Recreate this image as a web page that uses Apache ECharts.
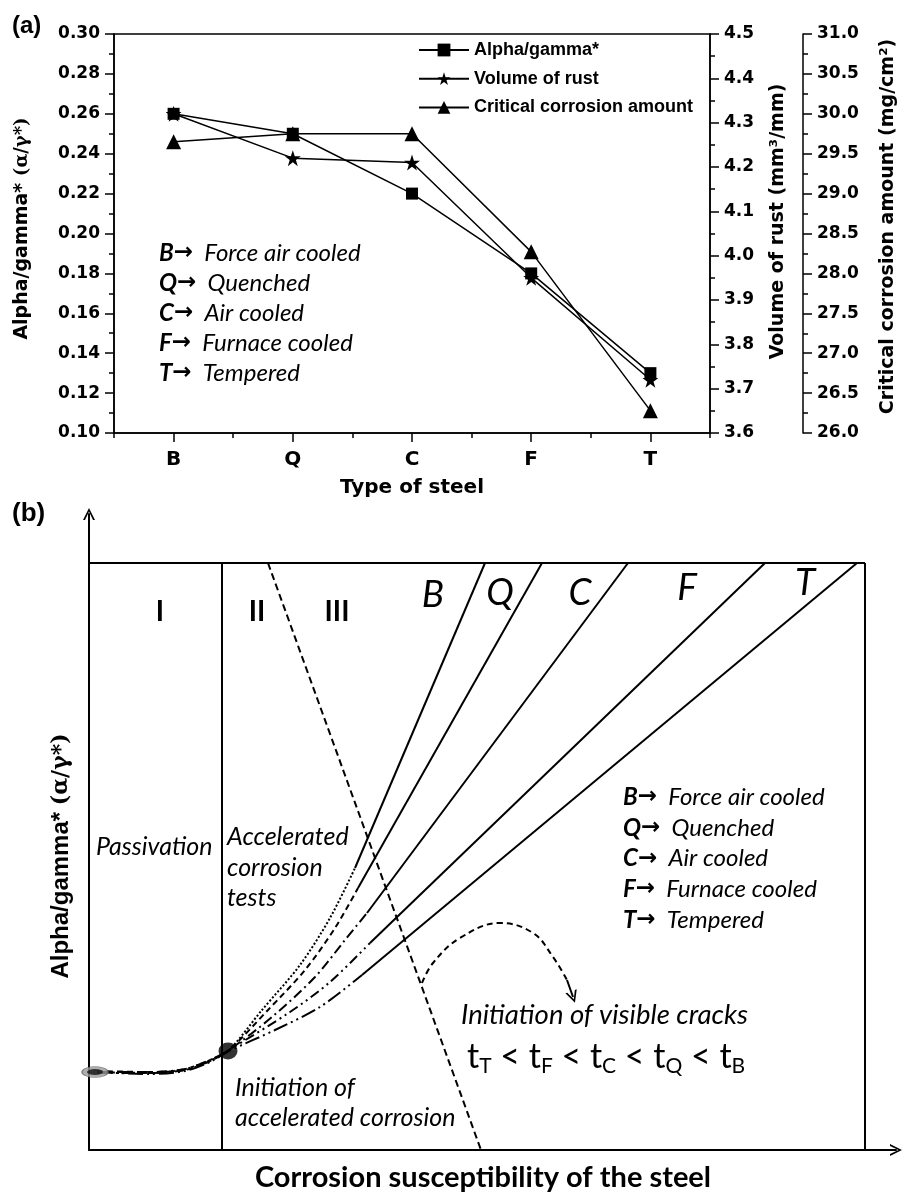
<!DOCTYPE html>
<html><head><meta charset="utf-8">
<script src="https://cdn.jsdelivr.net/npm/echarts/dist/echarts.min.js"></script>
<style>html,body{margin:0;padding:0;background:#fff}#c{width:909px;height:1195px}</style>
</head><body><div id="c"></div>
<script>
// ---------- Panel (a) data ----------
const steelTypes = ['B', 'Q', 'C', 'F', 'T'];
const steelKey = ['Force air cooled', 'Quenched', 'Air cooled', 'Furnace cooled', 'Tempered'];
const alphaGamma = [0.26, 0.25, 0.22, 0.18, 0.13];
const rustVolume = [4.32, 4.22, 4.21, 3.95, 3.72];
const criticalCorrosion = [29.65, 29.75, 29.75, 28.27, 26.28];
const seriesNames = ['Alpha/gamma*', 'Volume of rust', 'Critical corrosion amount'];
const leftTicks = {min: 0.10, max: 0.30, step: 0.02};
const rustTicks = {min: 3.6, max: 4.5, step: 0.1};
const critTicks = {min: 26.0, max: 31.0, step: 0.5};

// ---------- Panel (b) schematic (x: right of the y axis, y: above the x axis) ----------
const frameTop = [[0, 587], [776, 587]];
const frameRight = [[776, 587], [776, 0]];
const regionDivider = [[133, 0], [133, 587]];
const crackBoundary = [[179, 587], [392, 0]];
const passiveStart = [[6, 78]];
const acceleratedStart = [[139, 99]];
const curveB = [[8, 78], [61, 77], [96, 81], [121, 90], [140, 100], [173, 140], [211, 185], [241, 232], [266, 282]];
const curveQ = [[8, 79], [61, 78], [96, 80], [121, 89], [140, 100], [179, 140], [216, 180], [246, 222], [269, 262]];
const curveC = [[8, 78], [61, 78], [96, 81], [121, 90], [140, 100], [183, 133], [226, 173], [256, 210], [278, 237]];
const curveF = [[8, 77], [61, 77], [96, 80], [121, 89], [140, 100], [201, 138], [241, 168], [281, 207]];
const curveT = [[8, 78], [61, 76], [96, 79], [121, 88], [140, 99], [186, 120], [231, 143], [273, 175]];
const lineB = [[266, 282], [396, 587]];
const lineQ = [[269, 262], [453, 587]];
const lineC = [[278, 237], [539, 587]];
const lineF = [[281, 207], [676, 587]];
const lineT = [[273, 175], [768, 587]];
const crackArc = [[333, 167], [344, 187], [371, 212], [411, 227], [444, 217], [464, 193], [478, 170]];
const crackArrow = [[478, 170], [484, 153]];

const BLK = '#000';
const chevron = 'path://M0,12 L6,0 L12,12 L10,12 L6,3.5 L2,12 Z';
const star = 'path://M50 0 L61.8 35.1 L98.8 35.1 L68.9 57 L80.2 92.3 L50 70.5 L19.8 92.3 L31.1 57 L1.2 35.1 L38.2 35.1 Z';

function yAxisA(t, dec, pos, offset, name, nameGap, shiftUp) {
  return {
    type: 'value', gridIndex: 0, position: pos, offset: offset,
    min: t.min, max: t.max, interval: t.step,
    name: name, nameLocation: 'middle', nameGap: nameGap,
    nameTextStyle: {fontFamily: 'DejaVu Sans', fontWeight: 'bold', fontSize: 19, color: BLK,
      padding: [0, 0, 0, shiftUp * 2],
      rich: {b: {fontFamily: 'DejaVu Sans', fontWeight: 'bold', fontSize: 19, color: BLK},
             r: {fontFamily: 'DejaVu Serif', fontSize: 18, color: BLK}}},
    axisLine: {show: true, onZero: false, lineStyle: {color: BLK, width: 1.5}},
    axisTick: {show: true, inside: false, length: 9, lineStyle: {color: BLK, width: 1.5}},
    minorTick: {show: true, splitNumber: 2, length: 5, lineStyle: {color: BLK, width: 1.5}},
    splitLine: {show: false}, minorSplitLine: {show: false},
    axisLabel: {show: true, margin: 14, fontFamily: 'DejaVu Sans', fontWeight: 'bold', fontSize: 17, color: BLK,
      formatter: v => Number(v).toFixed(dec)}
  };
}

function lineB_(data, dash, smooth) {
  return {type: 'line', xAxisIndex: 2, yAxisIndex: 3, data: data, symbol: 'none', showSymbol: false,
    smooth: smooth || false, silent: true,
    lineStyle: {color: BLK, width: 2, type: dash || 'solid'}};
}

const keyText = steelTypes.map((s, i) => `{k|${s}}{a|→}{d|  ${steelKey[i]}}`).join('\n');
const keyRich = lh => ({
  k: {fontFamily: 'Lato', fontStyle: 'italic', fontWeight: 'bold', fontSize: 24, lineHeight: lh, fill: BLK, color: BLK},
  a: {fontFamily: 'DejaVu Sans', fontWeight: 'bold', fontSize: 23, lineHeight: lh, fill: BLK, color: BLK},
  d: {fontFamily: 'Lato', fontStyle: 'italic', fontSize: 24, lineHeight: lh, fill: BLK, color: BLK}
});
const tSub = ['T', 'F', 'C', 'Q', 'B'];
const tText = tSub.map(s => `{t|t}{s|${s}}`).join('{t| < }');

function txt(x, y, text, font, extra) {
  return Object.assign({type: 'text', x: x, y: y, silent: true,
    style: Object.assign({text: text, fill: BLK, textAlign: 'left', textVerticalAlign: 'middle'}, font)}, extra || {});
}

const option = {
  animation: false,
  backgroundColor: '#fff',
  grid: [
    {left: 114, top: 34, width: 596, height: 399, show: true, borderColor: BLK, borderWidth: 1.5,
     backgroundColor: 'transparent', containLabel: false, outerBoundsMode: 'none'},
    {left: 89, top: 514, width: 807, height: 636, show: false, containLabel: false, outerBoundsMode: 'none'}
  ],
  legend: {
    data: seriesNames, orient: 'vertical', left: 418, top: 41, itemWidth: 50, itemHeight: 16, itemGap: 10.7,
    textStyle: {fontFamily: 'Liberation Sans', fontWeight: 'bold', fontSize: 18, color: BLK},
    selectedMode: false, padding: 0, itemStyle: {color: BLK}
  },
  xAxis: [
    {type: 'category', gridIndex: 0, data: steelTypes, position: 'bottom', boundaryGap: true,
     name: 'Type of steel', nameLocation: 'middle', nameGap: 45,
     nameTextStyle: {fontFamily: 'DejaVu Sans', fontWeight: 'bold', fontSize: 20, color: BLK},
     axisLine: {show: true, onZero: false, lineStyle: {color: BLK, width: 1.5}},
     axisTick: {show: true, alignWithLabel: true, inside: false, length: 9, lineStyle: {color: BLK, width: 1.5}},
     axisLabel: {show: true, margin: 17, fontFamily: 'DejaVu Sans', fontWeight: 'bold', fontSize: 20, color: BLK},
     splitLine: {show: false}},
    {type: 'category', gridIndex: 0, data: steelTypes, position: 'bottom', boundaryGap: true,
     axisLine: {show: false, onZero: false},
     axisTick: {show: true, alignWithLabel: false, inside: false, length: 5, lineStyle: {color: BLK, width: 1.5}},
     axisLabel: {show: false}, splitLine: {show: false}},
    {type: 'value', gridIndex: 1, min: 0, max: 807,
     name: 'Corrosion susceptibility of the steel', nameLocation: 'middle', nameGap: 13,
     nameTextStyle: {fontFamily: 'Lato', fontWeight: 'bold', fontSize: 29, color: BLK, padding: [0, 19, 0, 0]},
     axisLine: {show: true, onZero: false, symbol: ['none', chevron], symbolSize: [14, 12], lineStyle: {color: BLK, width: 2}},
     axisTick: {show: false}, axisLabel: {show: false}, splitLine: {show: false}}
  ],
  yAxis: [
    yAxisA(leftTicks, 2, 'left', 0, '{b|Alpha/gamma*} {r|(α/γ*)}', 82, 5),
    yAxisA(rustTicks, 1, 'right', 0, 'Volume of rust (mm³/mm)', 59, 12),
    yAxisA(critTicks, 1, 'right', 93, 'Critical corrosion amount (mg/cm²)', 76, 7),
    {type: 'value', gridIndex: 1, min: 0, max: 636,
     name: '{b|Alpha/gamma*} {r|(α/γ*)}', nameLocation: 'middle', nameGap: 16,
     nameTextStyle: {fontFamily: 'Liberation Sans', fontWeight: 'bold', fontSize: 24, color: BLK, padding: [0, 48, 0, 0],
       rich: {b: {fontFamily: 'Liberation Sans', fontWeight: 'bold', fontSize: 24, color: BLK},
              r: {fontFamily: 'DejaVu Serif', fontSize: 22, color: BLK}}},
     axisLine: {show: true, onZero: false, symbol: ['none', chevron], symbolSize: [14, 12], lineStyle: {color: BLK, width: 2}},
     axisTick: {show: false}, axisLabel: {show: false}, splitLine: {show: false}}
  ],
  series: [
    {type: 'line', name: seriesNames[0], xAxisIndex: 0, yAxisIndex: 0, data: alphaGamma,
     symbol: 'rect', symbolSize: 12, lineStyle: {color: BLK, width: 1.5}, itemStyle: {color: BLK}},
    {type: 'line', name: seriesNames[1], xAxisIndex: 0, yAxisIndex: 1, data: rustVolume,
     symbol: star, symbolSize: 16, lineStyle: {color: BLK, width: 1.5}, itemStyle: {color: BLK}},
    {type: 'line', name: seriesNames[2], xAxisIndex: 0, yAxisIndex: 2, data: criticalCorrosion,
     symbol: 'triangle', symbolSize: 15, lineStyle: {color: BLK, width: 1.5}, itemStyle: {color: BLK}},

    lineB_(frameTop), lineB_(frameRight), lineB_(regionDivider),
    lineB_(crackBoundary, [7, 4]),
    lineB_(curveB, [2, 2], 0.3), lineB_(curveQ, [6, 4], 0.3), lineB_(curveC, [10, 4, 2, 4], 0.3),
    lineB_(curveF, [10, 4, 2, 4, 2, 4], 0.3), lineB_(curveT, [15, 4, 2, 4, 2, 4], 0.3),
    lineB_(lineB), lineB_(lineQ), lineB_(lineC), lineB_(lineF), lineB_(lineT),
    lineB_(crackArc, [6, 4], 0.4),
    {type: 'line', xAxisIndex: 2, yAxisIndex: 3, silent: true, showSymbol: true,
     data: [{value: crackArrow[0], symbol: 'none'},
            {value: crackArrow[1], symbol: chevron, symbolSize: [12, 12], symbolRotate: 199}],
     lineStyle: {color: BLK, width: 2}, itemStyle: {color: BLK}},
    {type: 'scatter', xAxisIndex: 2, yAxisIndex: 3, silent: true, data: passiveStart,
     symbol: 'circle', symbolSize: [26, 11], itemStyle: {color: '#9a9a9a', borderColor: '#666', borderWidth: 1}, z: 5},
    {type: 'scatter', xAxisIndex: 2, yAxisIndex: 3, silent: true, data: passiveStart,
     symbol: 'circle', symbolSize: [16, 6], itemStyle: {color: '#111'}, z: 6},
    {type: 'scatter', xAxisIndex: 2, yAxisIndex: 3, silent: true, data: acceleratedStart,
     symbol: 'circle', symbolSize: [19, 17], itemStyle: {color: '#000'}, z: 6}
  ],
  graphic: [
    txt(12, 26, '(a)', {font: 'bold 24px "Liberation Sans"'}),
    txt(12, 514, '(b)', {font: 'bold 26px "Liberation Sans"'}),
    {type: 'text', x: 159, y: 238, silent: true,
     style: {text: keyText, rich: keyRich(30), fill: BLK, textAlign: 'left', textVerticalAlign: 'top'}},
    {type: 'text', x: 623, y: 782, silent: true,
     style: {text: keyText, rich: keyRich(30.7), fill: BLK, textAlign: 'left', textVerticalAlign: 'top'}},
    txt(160, 612, 'I', {font: 'bold 28px Lato', textAlign: 'center'}),
    txt(257, 612, 'II', {font: 'bold 28px Lato', textAlign: 'center'}),
    txt(337, 612, 'III', {font: 'bold 28px Lato', textAlign: 'center'}),
    txt(433, 595, 'B', {font: 'italic 37px Lato', textAlign: 'center'}),
    txt(500, 593, 'Q', {font: 'italic 37px Lato', textAlign: 'center'}),
    txt(580, 593, 'C', {font: 'italic 37px Lato', textAlign: 'center'}),
    txt(687, 588, 'F', {font: 'italic 37px Lato', textAlign: 'center'}),
    txt(805, 583, 'T', {font: 'italic 37px Lato', textAlign: 'center'}),
    txt(96, 847, 'Passivation', {font: 'italic 25px Lato'}),
    {type: 'text', x: 227, y: 822, silent: true,
     style: {text: 'Accelerated\ncorrosion\ntests', font: 'italic 25px Lato', lineHeight: 30.5, fill: BLK, textAlign: 'left', textVerticalAlign: 'top'}},
    {type: 'text', x: 235, y: 1073, silent: true,
     style: {text: 'Initiation of\naccelerated corrosion', font: 'italic 25px Lato', lineHeight: 30, fill: BLK, textAlign: 'left', textVerticalAlign: 'top'}},
    txt(461, 1015, 'Initiation of visible cracks', {font: 'italic 27.5px Lato'}),
    {type: 'text', x: 467, y: 1037, silent: true,
     style: {text: tText, fill: BLK, textAlign: 'left', textVerticalAlign: 'top',
       rich: {t: {fontFamily: 'Lato', fontSize: 34, lineHeight: 40, fill: BLK, color: BLK},
              s: {fontFamily: 'Lato', fontSize: 21, lineHeight: 21, verticalAlign: 'bottom', fill: BLK, color: BLK}}}}
  ]
};

const chart = echarts.init(document.getElementById('c'));
chart.setOption(option);
</script>
</body></html>
